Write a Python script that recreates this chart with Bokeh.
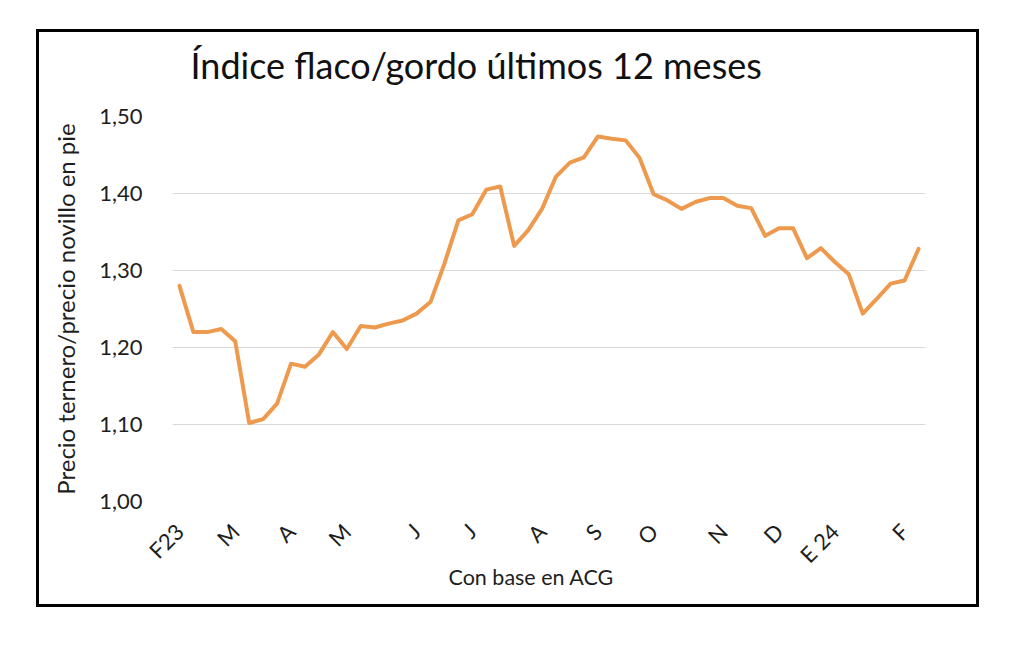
from math import pi
from bokeh.plotting import figure
from bokeh.models import FixedTicker, CustomJSTickFormatter, Title, Range1d, ColumnDataSource
from bokeh.layouts import column
from bokeh.embed import file_html
from bokeh.resources import INLINE

# weekly categories (Feb 2023 - Feb 2024); only some carry a visible label
week_labels = ["F23", "", "", "", "M", "", "", "", "A", "", "", "", "M", "", "", "", "", "J",
               "", "", "", "J", "", "", "", "", "A", "", "", "", "S", "", "", "", "O", "",
               "", "", "", "N", "", "", "", "D", "", "", "", "E 24", "", "", "", "", "F", ""]

index_values = [1.280, 1.220, 1.220, 1.224, 1.208, 1.102, 1.107, 1.127, 1.179, 1.175,
                1.191, 1.220, 1.198, 1.228, 1.226, 1.231, 1.235, 1.244, 1.259, 1.309,
                1.365, 1.373, 1.405, 1.409, 1.332, 1.352, 1.380, 1.422, 1.440, 1.447,
                1.474, 1.471, 1.469, 1.446, 1.399, 1.391, 1.380, 1.389, 1.394, 1.394,
                1.384, 1.381, 1.345, 1.355, 1.355, 1.316, 1.329, 1.311, 1.295, 1.244,
                1.263, 1.283, 1.287, 1.328]

y_ticks = [1.00, 1.10, 1.20, 1.30, 1.40, 1.50]

title_text = "Índice flaco/gordo últimos 12 meses"
y_title = "Precio ternero/precio novillo en pie"
x_title = "Con base en ACG"

FONT = "Lato"
TEXT_COLOR = "#1e1e1e"

n = len(index_values)
xs = list(range(n))
src = ColumnDataSource(data=dict(x=xs, y=index_values))

p = figure(width=937, height=572, output_backend="svg", toolbar_location=None,
           x_range=Range1d(-0.5, n - 0.5), y_range=Range1d(y_ticks[0], y_ticks[-1]),
           min_border_left=133, min_border_right=51, min_border_top=84, min_border_bottom=103,
           background_fill_color="white", border_fill_color="white")
p.outline_line_color = None

p.line("x", "y", source=src, line_color="#EE9A4E", line_width=4, line_join="round", line_cap="round")

# title (with an invisible spacer between it and the plot area)
p.title.text = title_text
p.title.text_font = FONT
p.title.text_font_size = "36px"
p.title.text_font_style = "normal"
p.title.text_color = "#111111"
p.title.align = "left"
p.title.vertical_align = "top"
p.title.offset = 18
p.title.standoff = 0
p.add_layout(Title(text=" ", text_font_size="10px", standoff=15), "above")

# grid
p.xgrid.visible = False
p.ygrid.grid_line_color = "#d9d9d9"
p.ygrid.grid_line_width = 1

# y axis
ya = p.yaxis[0]
ya.ticker = FixedTicker(ticks=y_ticks)
ya.formatter = CustomJSTickFormatter(code="return tick.toFixed(2).replace('.', ',');")
ya.axis_line_color = None
ya.major_tick_line_color = None
ya.minor_tick_line_color = None
ya.major_label_text_font = FONT
ya.major_label_text_font_size = "22px"
ya.major_label_text_color = TEXT_COLOR
ya.major_label_standoff = 24
ya.axis_label = y_title
ya.axis_label_text_font = FONT
ya.axis_label_text_font_size = "24px"
ya.axis_label_text_font_style = "normal"
ya.axis_label_text_color = TEXT_COLOR
ya.axis_label_standoff = 16

# x axis
label_pos = [i for i, t in enumerate(week_labels) if t]
xa = p.xaxis[0]
xa.ticker = FixedTicker(ticks=label_pos)
xa.major_label_overrides = {i: week_labels[i] for i in label_pos}
xa.major_label_orientation = pi / 4
xa.axis_line_color = None
xa.major_tick_line_color = None
xa.minor_tick_line_color = None
xa.major_label_text_font = FONT
xa.major_label_text_font_size = "22px"
xa.major_label_text_color = TEXT_COLOR
xa.major_label_standoff = 20

xt = Title(text=x_title, align="left", offset=276, text_font=FONT, text_font_size="21.5px",
           text_font_style="normal", text_color=TEXT_COLOR, standoff=-34, vertical_align="top")
p.add_layout(xt, "below")

layout = column(p, margin=(29, 0, 0, 36), styles={"border": "3px solid black"})

open("out.html", "w").write(file_html(layout, INLINE))
